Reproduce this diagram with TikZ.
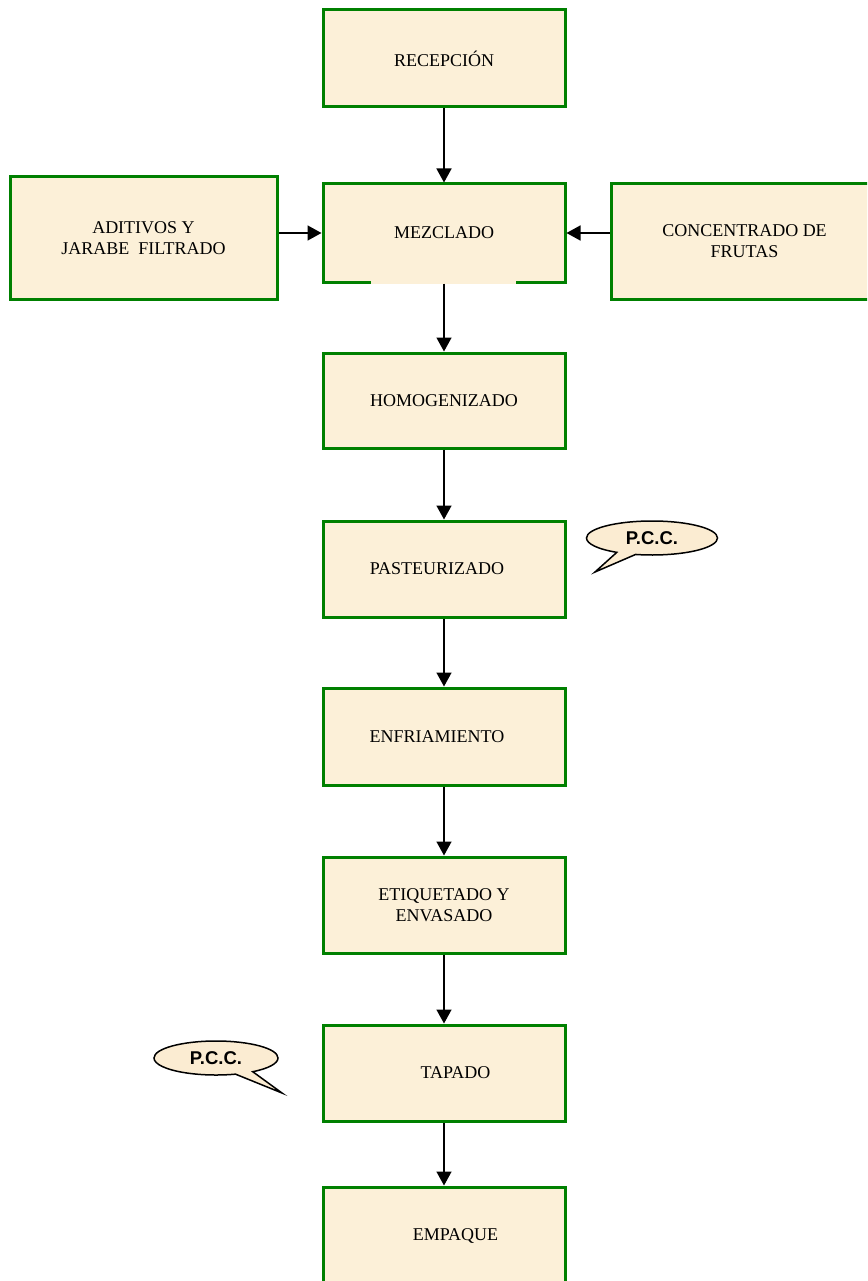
\documentclass[tikz,border=0pt]{standalone}
\usepackage{fontspec}
\setmainfont{Liberation Serif}
\newfontfamily\bubfont{Liberation Sans}
\usetikzlibrary{arrows.meta,shapes.callouts}
\definecolor{boxgreen}{RGB}{0,128,0}
\definecolor{parch}{RGB}{252,240,216}
\definecolor{bubfill}{RGB}{251,236,210}
\tikzset{
  stepbox/.style={draw=boxgreen, line width=3pt, fill=parch, rectangle,
    minimum width=242pt, minimum height=97pt, inner sep=0pt, align=center,
    font=\fontsize{18}{21}\selectfont},
  sidebox/.style={stepbox, minimum width=267pt, minimum height=120pt},
  flow/.style={line width=1.5pt, -{Triangle[width=15pt,length=14pt]}},
  pcc/.style={ellipse callout, draw=black, line width=1.5pt, fill=bubfill,
    minimum width=131pt, minimum height=34pt, inner sep=0pt,
    callout pointer arc=18,
    font=\bubfont\bfseries\fontsize{18.5}{20}\selectfont}
}
\begin{document}
\begin{tikzpicture}[x=1pt,y=-1pt]
\useasboundingbox (0,0) rectangle (867,1281);
\clip (0,0) rectangle (867,1281);
\node[stepbox] (rec) at (444,58.5) {RECEPCI\'ON};
\node[stepbox, minimum height=98pt] (mez) at (444,233) {MEZCLADO};
\fill[parch] (371,279.5) rectangle (516,283.5);
\node[sidebox, minimum height=122pt] (adi) at (143.5,238) {ADITIVOS Y\\JARABE\ \ FILTRADO};
\node[sidebox, minimum height=115pt] (con) at (744.5,241.5) {CONCENTRADO DE\\FRUTAS};
\node[stepbox, minimum height=95pt] (hom) at (444,400.5) {HOMOGENIZADO};
\node[stepbox, minimum height=96pt] (pas) at (444,569) {PASTEURIZADO\hspace*{14pt}};
\node[stepbox] (enf) at (444,736.5) {ENFRIAMIENTO\hspace*{14pt}};
\node[stepbox, minimum height=96pt] (eti) at (444,905) {ETIQUETADO Y\\ENVASADO};
\node[stepbox, minimum height=96pt] (tap) at (444,1073) {\hspace*{23pt}TAPADO};
\node[stepbox] (emp) at (444,1235.5) {\hspace*{23pt}EMPAQUE};
\draw[flow] (rec) -- (mez);
\draw[flow] (adi.east |- mez.west) -- (mez.west);
\draw[flow] (con.west |- mez.east) -- (mez.east);
\draw[flow] (mez) -- (hom);
\draw[flow] (hom) -- (pas);
\draw[flow] (pas) -- (enf);
\draw[flow] (enf) -- (eti);
\draw[flow] (eti) -- (tap);
\draw[flow] (tap) -- (emp);
\node[pcc, callout absolute pointer={(595,572)}] (pcc1) at (652,538) {P.C.C.};
\node[pcc, minimum width=124pt, callout absolute pointer={(282,1093)}] (pcc2) at (216,1058) {P.C.C.};
\end{tikzpicture}
\end{document}
